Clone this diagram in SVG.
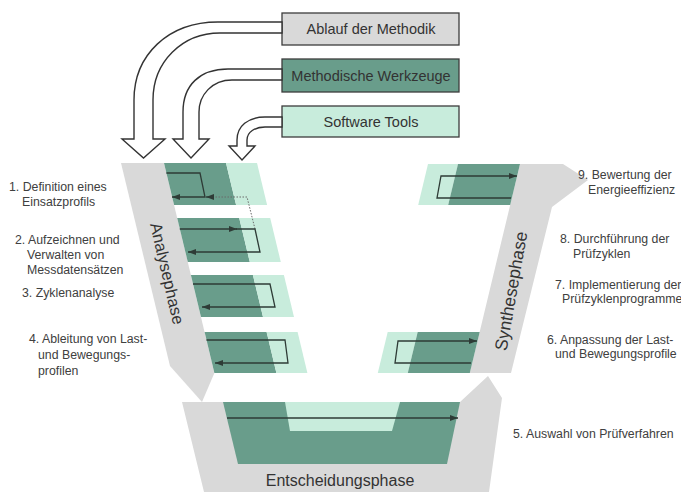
<svg xmlns="http://www.w3.org/2000/svg" width="681" height="492" viewBox="0 0 681 492">
<defs>
<style>
.gray{fill:#d9d9d9}
.dk{fill:#699d8b}
.lt{fill:#c8ecdc}
.box{stroke:#3c3c3c;stroke-width:1.3}
.lbl{font-family:"Liberation Sans",Arial,sans-serif;font-size:12.3px;fill:#404040}
.btx{font-family:"Liberation Sans",Arial,sans-serif;font-size:14.5px;fill:#333;text-anchor:middle}
.ph{font-family:"Liberation Sans",Arial,sans-serif;font-size:16.5px;fill:#333;text-anchor:middle}
.flow{fill:none;stroke:#2e3b36;stroke-width:1.3}
.dot{fill:none;stroke:#6a6a6a;stroke-width:1;stroke-dasharray:1.5 1.5}
.big{fill:#fff;stroke:#333;stroke-width:1.4;stroke-linejoin:miter}
</style>
<marker id="ah" viewBox="0 0 8 6" refX="8" refY="3" markerWidth="8" markerHeight="6" markerUnits="userSpaceOnUse" orient="auto">
<path d="M0,0 L8,3 L0,6 Z" fill="#2e3b36"/>
</marker>
</defs>

<g id="box-ablauf">
<rect class="box gray" x="282" y="13" width="177" height="32"/>
<text class="btx" x="371" y="34">Ablauf der Methodik</text>
</g>
<g id="box-werkzeuge">
<rect class="box dk" x="282" y="59" width="177" height="33"/>
<text class="btx" x="371" y="81">Methodische Werkzeuge</text>
</g>
<g id="box-software">
<rect class="box lt" x="282" y="106" width="177" height="31"/>
<text class="btx" x="371" y="127">Software Tools</text>
</g>

<g id="analysephase">
<polygon class="gray" points="121,163 164,163 214.4,373 202,402 170,366"/>
<text class="ph" transform="translate(167.5,273.5) rotate(77)" x="0" y="6">Analysephase</text>
</g>
<g id="synthesephase">
<polygon class="gray" points="520,164 563,164 588,180 552,207 511,373 469.8,373"/>
<text class="ph" transform="translate(511,291) rotate(-80)" x="0" y="6" style="font-size:17.5px">Synthesephase</text>
</g>
<g id="entscheidungsphase">
<polygon class="gray" points="182,402 460,402 488,376 502,398 489,492 204,492"/>
<polygon class="dk" points="223,402 460,402 447,464 238,464"/>
<polygon class="lt" points="285,402 400,402 392,431 290,431"/>
<text class="ph" x="340" y="486" style="font-size:16px">Entscheidungsphase</text>
</g>

<g id="step1">
<polygon class="dk" points="164,163 226,163 236.1,205 174.1,205"/>
<polygon class="lt" points="226,163 257,163 267.1,205 236.1,205"/>
</g>
<g id="step2">
<polygon class="dk" points="177.2,218 239.2,218 249.8,262 187.8,262"/>
<polygon class="lt" points="239.2,218 270.2,218 280.8,262 249.8,262"/>
</g>
<g id="step3">
<polygon class="dk" points="190.9,275 252.9,275 263,317 201,317"/>
<polygon class="lt" points="252.9,275 283.9,275 294,317 263,317"/>
</g>
<g id="step4">
<polygon class="dk" points="204.6,332 266.6,332 276.4,373 214.4,373"/>
<polygon class="lt" points="266.6,332 297.6,332 307.4,373 276.4,373"/>
</g>
<g id="step6">
<polygon class="lt" points="387.7,332 417.7,332 407.8,373 377.8,373"/>
<polygon class="dk" points="417.7,332 479.7,332 469.8,373 407.8,373"/>
</g>
<g id="step9">
<polygon class="lt" points="428,164 458,164 448.2,205 418.2,205"/>
<polygon class="dk" points="458,164 520,164 510.2,205 448.2,205"/>
</g>

<g id="labels">
<text class="lbl" x="9" y="191">1. Definition eines</text>
<text class="lbl" x="22" y="206">Einsatzprofils</text>
<text class="lbl" x="15" y="244">2. Aufzeichnen und</text>
<text class="lbl" x="27" y="259">Verwalten von</text>
<text class="lbl" x="27" y="274">Messdatensätzen</text>
<text class="lbl" x="22" y="297">3. Zyklenanalyse</text>
<text class="lbl" x="29" y="343">4. Ableitung von Last-</text>
<text class="lbl" x="38" y="359">und Bewegungs-</text>
<text class="lbl" x="38" y="375">profilen</text>
<text class="lbl" x="578" y="179">9. Bewertung der</text>
<text class="lbl" x="588" y="194">Energieeffizienz</text>
<text class="lbl" x="560" y="243">8. Durchführung der</text>
<text class="lbl" x="573" y="258">Prüfzyklen</text>
<text class="lbl" x="555" y="289">7. Implementierung der</text>
<text class="lbl" x="562" y="303">Prüfzyklenprogramme</text>
<text class="lbl" x="547" y="344">6. Anpassung der Last-</text>
<text class="lbl" x="555" y="358">und Bewegungsprofile</text>
<text class="lbl" x="513" y="438">5. Auswahl von Prüfverfahren</text>
</g>

<g id="connectors">
<path class="big" d="M282,22 L218,22 C168,22 134,55 134,100 L134,139 L122,139 L143.5,158 L165,139 L153,139 L153,100 C153,62 182,33 220,33 L282,33 Z"/>
<path class="big" d="M282,69 L228,69 C200,69 183,85 183,112 L183,139 L173,139 L191,158 L209,139 L199,139 L199,112 C199,95 212,80 232,80 L282,80 Z"/>
<path class="big" d="M282,117 L265,117 C248,117 237,126 237,140 L237,146 L229,146 L242,160 L255,146 L247,146 L247,140 C247,132 255,127 265,127 L282,127 Z"/>

<path class="flow" d="M166.4,173 L200,173 L205,197 L172,197" marker-end="url(#ah)"/>
<path class="dot" d="M255,229 L247,197 L214,197"/>
<path class="flow" d="M214,197 L206,197" marker-end="url(#ah)"/>
<path class="flow" d="M179.8,229 L237,229" marker-end="url(#ah)"/>
<path class="flow" d="M236,229 L255,229 L260,252 L188,252" marker-end="url(#ah)"/>
<path class="flow" d="M193,284 L270,284 L275,307 L202,307" marker-end="url(#ah)"/>
<path class="flow" d="M206.5,340 L285,340 L288,363 L215,363" marker-end="url(#ah)"/>
<path class="flow" d="M227,418 L458,418" marker-end="url(#ah)"/>
<path class="flow" d="M471,363 L395,363 L398,341 L477,341" marker-end="url(#ah)"/>
<path class="flow" d="M511,198 L437,198 L441,176 L517,176" marker-end="url(#ah)"/>
</g>
</svg>
